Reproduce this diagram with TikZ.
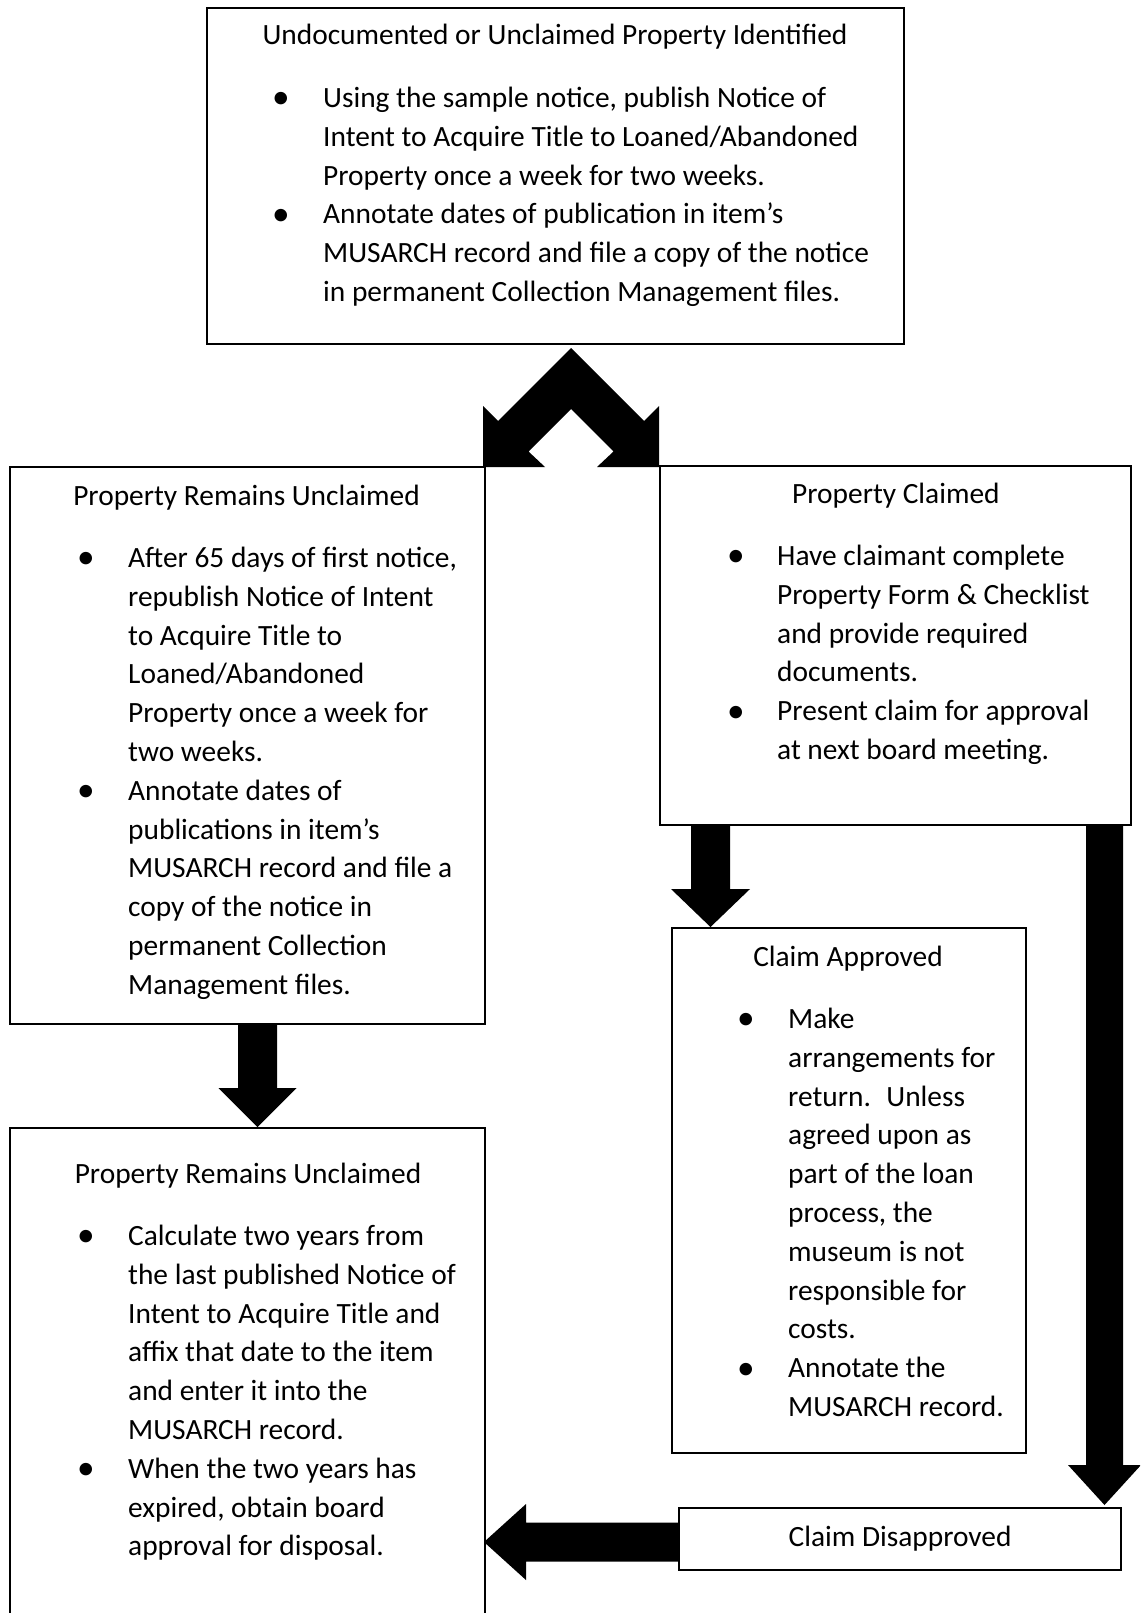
\documentclass[tikz,border=0pt]{standalone}
\usepackage{fontspec}
\setmainfont{Carlito}
\usetikzlibrary{calc}
\newcommand{\blkdown}[5]{%
  \fill ($(#1)+(-#3,0)$) -- ($(#2)+(-#3,-#5)$) -- ($(#2)+(-#4,-#5)$) -- (#2)
    -- ($(#2)+(#4,-#5)$) -- ($(#2)+(#3,-#5)$) -- ($(#1)+(#3,0)$) -- cycle;}
\newcommand{\blkleft}[5]{%
  \fill ($(#1)+(0,-#3)$) -- ($(#2)+(#5,-#3)$) -- ($(#2)+(#5,-#4)$) -- (#2)
    -- ($(#2)+(#5,#4)$) -- ($(#2)+(#5,#3)$) -- ($(#1)+(0,#3)$) -- cycle;}
\newcommand{\blist}[2]{\begin{tabular}[t]{@{}p{#1pt}@{}l@{}}#2\end{tabular}}
\newcommand{\bl}{\raisebox{-0.05em}{\scalebox{1.2}{\textbullet}}}
\begin{document}
\begin{tikzpicture}[x=1pt,y=-1pt,
  box/.style={draw, line width=2.2pt, inner sep=0pt, anchor=north west},
  txt/.style={inner sep=0pt, anchor=base west, font=\fontsize{29.4}{38.8}\selectfont},
  ttl/.style={inner sep=0pt, anchor=base, font=\fontsize{29.4}{38.8}\selectfont}]
\useasboundingbox (0,0) rectangle (1140,1613);
\clip (0,0) rectangle (1140,1613);
% boxes
\node[box, minimum width=697pt, minimum height=336pt] (top) at (206,7) {};
\node[box, minimum width=475pt, minimum height=557pt] (lbox) at (9,466) {};
\node[box, minimum width=471pt, minimum height=359pt] (rbox) at (659,465) {};
\node[box, minimum width=354pt, minimum height=525pt] (abox) at (671,927) {};
\node[box, minimum width=475pt, minimum height=560pt] (bbox) at (9,1127) {};
\node[box, minimum width=442pt, minimum height=62pt] (dbox) at (678,1507) {};
% texts
\node[ttl] (toptitle) at (555,45) {Undocumented or Unclaimed Property Identified};
\node[txt] (toptext) at (272,107.5) {\blist{51}{%
\bl & Using the sample notice, publish Notice of\\
 & Intent to Acquire Title to Loaned/Abandoned\\
 & Property once a week for two weeks.\\
\bl & Annotate dates of publication in item’s\\
 & MUSARCH record and file a copy of the notice\\
 & in permanent Collection Management files.}};
\node[ttl] (ltitle) at (246.5,505.5) {Property Remains Unclaimed};
\node[txt] (ltext) at (77,567.5) {\blist{51}{%
\bl & After 65 days of first notice,\\
 & republish Notice of Intent\\
 & to Acquire Title to\\
 & Loaned/Abandoned\\
 & Property once a week for\\
 & two weeks.\\
\bl & Annotate dates of\\
 & publications in item’s\\
 & MUSARCH record and file a\\
 & copy of the notice in\\
 & permanent Collection\\
 & Management files.}};
\node[txt] (rtitle) at (792,503.5) {Property Claimed};
\node[txt] (rtext) at (727,565.5) {\blist{50}{%
\bl & Have claimant complete\\
 & Property Form \& Checklist\\
 & and provide required\\
 & documents.\\
\bl & Present claim for approval\\
 & at next board meeting.}};
\node[ttl] (atitle) at (848,966.5) {Claim Approved};
\node[txt] (atext) at (737,1028.5) {\blist{51}{%
\bl & Make\\
 & arrangements for\\
 & return.~ Unless\\
 & agreed upon as\\
 & part of the loan\\
 & process, the\\
 & museum is not\\
 & responsible for\\
 & costs.\\
\bl & Annotate the\\
 & MUSARCH record.}};
\node[ttl] (btitle) at (248,1183.5) {Property Remains Unclaimed};
\node[txt] (btext) at (77,1245.5) {\blist{51}{%
\bl & Calculate two years from\\
 & the last published Notice of\\
 & Intent to Acquire Title and\\
 & affix that date to the item\\
 & and enter it into the\\
 & MUSARCH record.\\
\bl & When the two years has\\
 & expired, obtain board\\
 & approval for disposal.}};
\node[ttl, anchor=center] (dtext) at (dbox.center) {Claim Disapproved};
% connectors
\coordinate (chv) at (571,348);
\fill (chv) ++(-88,119) -- ++(0,-61) -- ++(15,15) -- (chv) -- ++(73,73) -- ++(15,-15)
  -- ++(0,61) -- ++(-62,0) -- ++(16.5,-15.5) -- ($(chv)+(0,61)$) -- ++(-42.5,42.5)
  -- ++(16.5,15.5) -- cycle;
\coordinate (a1s) at (257.5,1023);
\coordinate (a1e) at (257.5,1127);
\blkdown{a1s}{a1e}{19.5}{39}{39}
\coordinate (a2s) at (710.5,824);
\coordinate (a2e) at (710.5,927);
\blkdown{a2s}{a2e}{19.5}{39.5}{38}
\coordinate (a3s) at (1104.5,824);
\coordinate (a3e) at (1104.5,1505);
\blkdown{a3s}{a3e}{18.5}{36.5}{40}
\coordinate (a4s) at (678,1542);
\coordinate (a4e) at (484,1542);
\blkleft{a4s}{a4e}{19.5}{38}{42}
\end{tikzpicture}
\end{document}
